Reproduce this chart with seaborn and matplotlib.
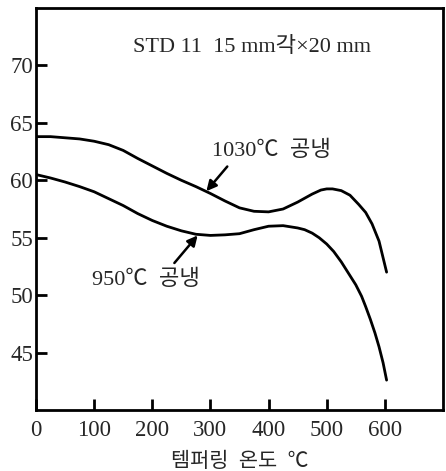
import matplotlib
matplotlib.use("Agg")
import matplotlib.pyplot as plt
import seaborn as sns
import pandas as pd

# Tempering temperature (°C) and hardness (HRC) for STD 11 air-cooled samples
temp_1030 = [0, 25, 50, 75, 100, 125, 150, 175, 200, 225, 250, 275, 300, 325,
             350, 375, 400, 425, 450, 475, 490, 500, 510, 525, 540, 555, 567,
             578, 590, 603]
hrc_1030 = [63.8, 63.8, 63.7, 63.6, 63.4, 63.1, 62.6, 61.9, 61.25, 60.6, 60.0,
            59.45, 58.85, 58.2, 57.6, 57.3, 57.25, 57.5, 58.1, 58.8, 59.15,
            59.25, 59.25, 59.1, 58.7, 57.9, 57.2, 56.2, 54.7, 52.0]

temp_950 = [0, 25, 50, 75, 100, 125, 150, 175, 200, 225, 250, 275, 300, 325,
            350, 375, 400, 425, 450, 462, 475, 487, 500, 512, 525, 540, 550,
            560, 567, 575, 583, 590, 597, 603]
hrc_950 = [60.5, 60.2, 59.85, 59.45, 59.0, 58.4, 57.8, 57.1, 56.5, 56.0, 55.6,
           55.3, 55.2, 55.25, 55.35, 55.7, 56.0, 56.05, 55.85, 55.7, 55.4,
           55.0, 54.45, 53.8, 52.9, 51.7, 50.9, 49.9, 49.0, 47.9, 46.7, 45.5,
           44.1, 42.6]

x_ticks = [0, 100, 200, 300, 400, 500, 600]
y_ticks = [45, 50, 55, 60, 65, 70]

title_text = "STD 11  15 mm각×20 mm"
label_1030 = "1030℃  공냉"
label_950 = "950℃  공냉"
x_label = "템퍼링  온도  ℃"

df = pd.concat([
    pd.DataFrame({"temp": temp_1030, "hrc": hrc_1030, "cond": "1030"}),
    pd.DataFrame({"temp": temp_950, "hrc": hrc_950, "cond": "950"}),
])

sns.set_style("ticks")
plt.rcParams["font.family"] = ["Liberation Serif", "Noto Sans CJK KR", "DejaVu Sans"]

fig = plt.figure(figsize=(4.46, 4.71), dpi=100)
ax = fig.add_axes([36 / 446, 1 - 410 / 471, 407 / 446, 402 / 471])

sns.lineplot(data=df, x="temp", y="hrc", hue="cond", units="cond",
             estimator=None, sort=False, palette=["black", "black"],
             linewidth=2.0, legend=False, ax=ax)

ax.set_xlim(0, 700)
ax.set_ylim(40, 75)
ax.set_xticks(x_ticks)
ax.set_yticks(y_ticks)
ax.set_xticklabels([str(t) for t in x_ticks], fontsize=16.5)
ax.set_yticklabels([str(t) for t in y_ticks], fontsize=16.5)
ax.tick_params(direction="in", length=8, width=2, color="black")
ax.tick_params(axis="x", pad=7)
ax.tick_params(axis="y", pad=2)
ax.set_xlabel(x_label, fontsize=15, labelpad=9)
ax.set_ylabel("")
for side in ax.spines.values():
    side.set_linewidth(2)
    side.set_color("black")

ax.text(372, 71.6, title_text, fontsize=16, ha="center", va="center")

arrow = dict(arrowstyle="-|>,head_length=0.6,head_width=0.3", color="black",
             lw=1.8, shrinkA=0, shrinkB=0)
ax.text(302, 62.6, label_1030, fontsize=16, ha="left", va="center")
ax.annotate("", xy=(293, 59.05), xytext=(329, 61.2), arrowprops=arrow)
ax.text(96, 51.3, label_950, fontsize=16, ha="left", va="center")
ax.annotate("", xy=(278, 55.2), xytext=(238, 52.8), arrowprops=arrow)

fig.savefig("out.png", dpi=100)
